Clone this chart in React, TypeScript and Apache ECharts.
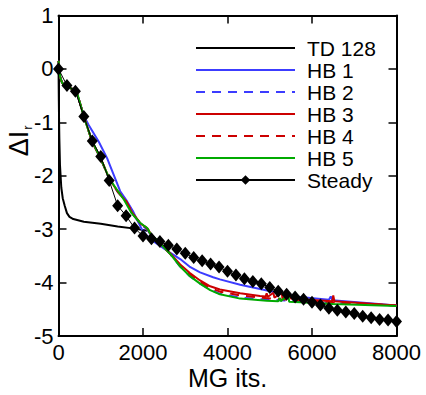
import React, { useEffect, useRef } from "react";
import * as echarts from "echarts";

const FONT = "'Liberation Sans', Arial, Helvetica, sans-serif";

const seriesNames = ["TD 128", "HB 1", "HB 2", "HB 3", "HB 4", "HB 5", "Steady"];
const seriesColors = ["#000000", "#3c3cff", "#3c3cff", "#cc0000", "#cc0000", "#00aa00", "#000000"];

const xMin = 0, xMax = 8000, xStep = 2000;
const yMin = -5, yMax = 1, yStep = 1;

const td128 = [
  [0, 0.1], [8, -0.6], [14, -1.0], [20, -1.3], [35, -1.8], [66, -2.22], [100, -2.42],
  [147, -2.56], [200, -2.7], [260, -2.77], [350, -2.81], [600, -2.86], [1000, -2.9],
  [1400, -2.95], [1800, -2.99], [2100, -3.03],
];

const hb1 = [
  [0, 0.15], [40, -0.15], [80, -0.25], [160, -0.33], [320, -0.37], [440, -0.46], [520, -0.67],
  [600, -0.88], [714, -1.05], [950, -1.36], [1150, -1.67], [1300, -1.97], [1460, -2.29],
  [1600, -2.45], [1760, -2.66], [1970, -3.0], [2100, -3.13], [2250, -3.23], [2640, -3.44],
  [2880, -3.56], [3100, -3.7], [3350, -3.81], [3660, -3.9], [3820, -3.94], [4300, -4.04],
  [4770, -4.12], [5240, -4.2], [5720, -4.27], [6400, -4.32], [6444, -4.26], [6480, -4.33],
  [7290, -4.38], [8000, -4.43],
];

const hb2 = [
  [0, 0.15], [40, -0.15], [80, -0.25], [160, -0.33], [320, -0.37], [440, -0.46], [520, -0.67],
  [600, -0.89], [800, -1.37], [1000, -1.69], [1200, -2.06], [1400, -2.3], [1600, -2.48],
  [1750, -2.71], [1950, -2.92], [2060, -2.98], [2120, -3.03], [2180, -3.11], [2400, -3.28],
  [2640, -3.46], [2880, -3.7], [3110, -3.88], [3350, -4.02], [3590, -4.13], [3820, -4.21],
  [4300, -4.28], [4770, -4.31], [5240, -4.33], [5720, -4.35], [6500, -4.38], [8000, -4.43],
];

const hb3 = [
  [0, 0.15], [40, -0.15], [80, -0.25], [160, -0.33], [320, -0.37], [440, -0.46], [520, -0.67],
  [600, -0.89], [800, -1.37], [1000, -1.68], [1200, -2.05], [1400, -2.3], [1600, -2.48],
  [1750, -2.7], [1950, -2.9], [2060, -2.96], [2120, -3.0], [2180, -3.09], [2400, -3.26],
  [2640, -3.45], [2880, -3.66], [3110, -3.82], [3350, -3.96], [3590, -4.07], [3820, -4.13],
  [4300, -4.2], [4770, -4.25], [4900, -4.26], [4927, -4.2], [4950, -4.27], [5085, -4.19],
  [5110, -4.28], [5283, -4.19], [5300, -4.29], [5480, -4.22], [5500, -4.3], [5720, -4.31],
  [6480, -4.35], [6503, -4.24], [6530, -4.35], [8000, -4.43],
];

const hb4 = [
  [0, 0.15], [40, -0.15], [80, -0.25], [160, -0.33], [320, -0.37], [440, -0.46], [520, -0.67],
  [600, -0.89], [800, -1.37], [1000, -1.68], [1200, -2.05], [1400, -2.29], [1600, -2.47],
  [1750, -2.7], [1950, -2.9], [2060, -2.96], [2120, -3.01], [2180, -3.1], [2400, -3.27],
  [2640, -3.46], [2880, -3.68], [3110, -3.85], [3350, -3.99], [3590, -4.1], [3820, -4.17],
  [4300, -4.24], [4770, -4.28], [5240, -4.31], [5720, -4.33], [6500, -4.37], [8000, -4.43],
];

const hb5 = [
  [0, 0.15], [40, -0.15], [80, -0.25], [160, -0.33], [320, -0.37], [440, -0.45], [520, -0.67],
  [600, -0.9], [800, -1.36], [1000, -1.68], [1200, -2.05], [1400, -2.28], [1550, -2.45],
  [1730, -2.7], [1930, -2.88], [2050, -2.95], [2100, -2.98], [2170, -3.08], [2400, -3.26],
  [2640, -3.46], [2880, -3.7], [3110, -3.88], [3350, -4.02], [3590, -4.14], [3820, -4.22],
  [4300, -4.3], [4930, -4.34], [5200, -4.35], [5243, -4.29], [5260, -4.35], [5440, -4.23],
  [5460, -4.36], [5720, -4.37], [6500, -4.4], [8000, -4.44],
];

const steady = [
  [0, 0], [200, -0.31], [400, -0.42], [600, -0.89], [800, -1.35], [1000, -1.64], [1200, -2.09],
  [1400, -2.56], [1600, -2.75], [1800, -2.98], [2000, -3.13], [2200, -3.18], [2400, -3.23],
  [2600, -3.3], [2800, -3.37], [3000, -3.45], [3200, -3.53], [3400, -3.59], [3600, -3.65],
  [3800, -3.71], [4000, -3.79], [4200, -3.86], [4400, -3.93], [4600, -3.98], [4800, -4.02],
  [5000, -4.09], [5200, -4.16], [5400, -4.22], [5600, -4.27], [5800, -4.31], [6000, -4.37],
  [6200, -4.42], [6400, -4.48], [6600, -4.52], [6800, -4.55], [7000, -4.58], [7200, -4.63],
  [7400, -4.66], [7600, -4.69], [7800, -4.7], [8000, -4.73],
];

const seriesData = [td128, hb1, hb2, hb3, hb4, hb5, steady];
const seriesDash: any[] = ["solid", "solid", [9, 7], "solid", [9, 7], "solid", "solid"];
const seriesWidth = [2, 2, 2, 2, 2, 2, 1];

export default function App() {
  const ref = useRef<HTMLDivElement>(null);
  useEffect(() => {
    if (!ref.current) return;
    const chart = echarts.init(ref.current, null, { renderer: "svg" });
    const axisCommon = {
      type: "value" as const,
      splitLine: { show: false },
      axisLine: { show: true, onZero: false, lineStyle: { color: "#000", width: 2 } },
      axisTick: { show: true, inside: true, length: 8, lineStyle: { color: "#000", width: 1.5 } },
    };
    const series: any[] = seriesNames.map((name, i) => ({
      name,
      type: "line",
      data: seriesData[i],
      xAxisIndex: 0,
      yAxisIndex: 0,
      symbol: name === "Steady" ? "diamond" : "none",
      symbolSize: name === "Steady" ? [11, 13] : 0,
      showSymbol: name === "Steady",
      itemStyle: { color: seriesColors[i] },
      lineStyle: { color: seriesColors[i], width: seriesWidth[i], type: seriesDash[i] },
      z: 2 + i,
    }));
    chart.setOption({
      animation: false,
      backgroundColor: "#fff",
      textStyle: { fontFamily: FONT },
      grid: { left: 58.5, right: 29.5, top: 15.5, bottom: 59, containLabel: false, outerBoundsMode: "none" },
      legend: {
        orient: "vertical",
        left: 190,
        top: 32,
        itemWidth: 99,
        itemHeight: 12,
        itemGap: 0,
        data: seriesNames.map((n) =>
          n === "Steady" ? { name: n } : { name: n, itemStyle: { opacity: 0 } }
        ),
        textStyle: { fontSize: 21, lineHeight: 22, color: "#000", fontFamily: FONT, padding: [0, 0, 0, 7] },
      },
      xAxis: [
        {
          ...axisCommon,
          min: xMin, max: xMax, interval: xStep,
          position: "bottom",
          axisLabel: { fontSize: 22, color: "#000", margin: 5, fontFamily: FONT, formatter: (v: number) => String(v) },
          name: "MG its.",
          nameLocation: "middle",
          nameGap: 29,
          nameMoveOverlap: false,
          nameTextStyle: { fontSize: 25, color: "#000", fontFamily: FONT },
        },
        {
          ...axisCommon,
          min: xMin, max: xMax, interval: xStep,
          position: "top",
          axisLabel: { show: false },
        },
      ],
      yAxis: [
        {
          ...axisCommon,
          min: yMin, max: yMax, interval: yStep,
          position: "left",
          axisLabel: { fontSize: 22, color: "#000", margin: 5, fontFamily: FONT },
          name: "{m|ΔI}{s|r}",
          nameLocation: "middle",
          nameRotate: 90,
          nameGap: 25,
          nameMoveOverlap: false,
          nameTextStyle: {
            color: "#000",
            fontFamily: FONT,
            padding: [0, 0, 0, 70],
            rich: {
              m: { fontSize: 27, color: "#000", fontFamily: FONT },
              s: { fontSize: 13, color: "#000", fontFamily: FONT, padding: [16, 0, 0, 1] },
            },
          },
        },
        {
          ...axisCommon,
          min: yMin, max: yMax, interval: yStep,
          position: "right",
          axisLabel: { show: false },
        },
      ],
      series,
    });
    return () => chart.dispose();
  }, []);
  return <div ref={ref} style={{ position: "fixed", left: 0, top: 0, width: 426, height: 395 }} />;
}
